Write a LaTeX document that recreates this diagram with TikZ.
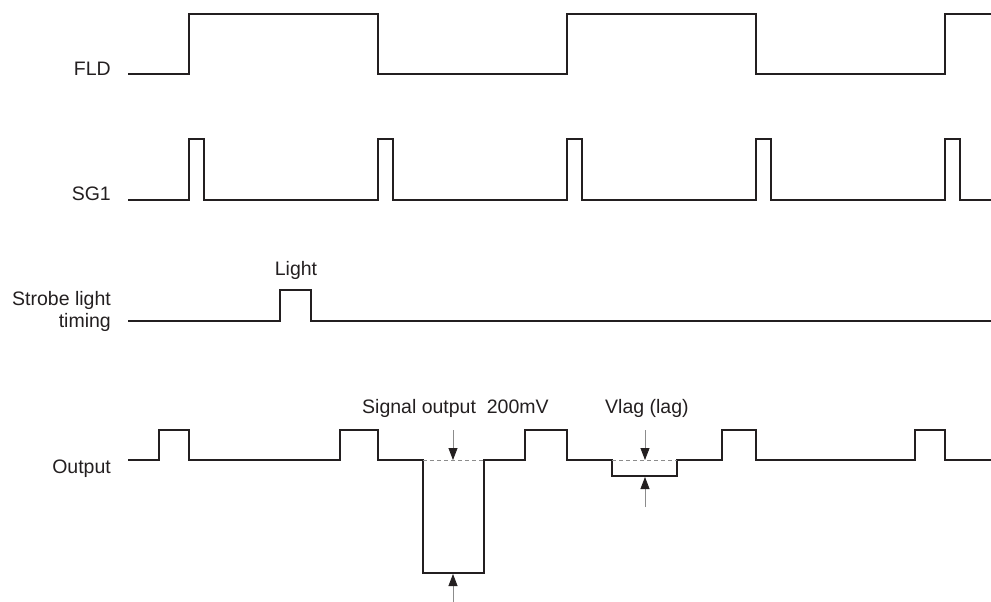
\documentclass[tikz,border=0pt]{standalone}
\usepackage{fontspec}
\setmainfont{Liberation Sans}
\usepackage{xcolor}
\definecolor{ink}{HTML}{231F20}
\definecolor{guide}{HTML}{8C8C8C}
\usetikzlibrary{arrows.meta}
\tikzset{
  wave/.style  = {draw=ink, line width=1.7pt, line join=miter},
  ref/.style   = {draw=guide, line width=0.8pt, dash pattern=on 4pt off 3pt},
  dim/.style   = {draw=guide, line width=0.8pt,
                  -{Triangle[length=12pt, width=9pt, color=ink]}},
  lbl/.style   = {font=\fontsize{19.5}{21.5}\selectfont, text=ink, inner sep=0pt}
}

\begin{document}
\begin{tikzpicture}[x=1pt, y=-1pt]
  \useasboundingbox (0,0) rectangle (991,602);
  % signal names
  \node[lbl, anchor=base east] (fld) at (111,76) {FLD};
  \node[lbl, anchor=base east] (sg)  at (111,200) {SG1};
  \node[lbl, anchor=base east, align=right] (strobe) at (111,327) {Strobe light\\timing};
  \node[lbl, anchor=base east] (out) at (111,473) {Output};
  % waveforms
  \draw[wave] (128,74) -- (189,74) -- (189,14) -- (378,14) -- (378,74)
    -- (567,74) -- (567,14) -- (756,14) -- (756,74) -- (945,74) -- (945,14) -- (991,14);
  \draw[wave] (128,200)
    \foreach \t in {189,378,567,756,945} { -- (\t,200) -- (\t,139) -- (\t+15,139) -- (\t+15,200) }
    -- (991,200);
  \draw[wave] (128,321) -- (280,321) -- (280,290) -- (311,290) -- (311,321) -- (991,321);
  \draw[wave] (128,460) -- (159,460) -- (159,430) -- (189,430) -- (189,460)
    -- (340,460) -- (340,430) -- (378,430) -- (378,460)
    -- (423,460) -- (423,573) -- (484,573) -- (484,460)
    -- (525,460) -- (525,430) -- (567,430) -- (567,460)
    -- (612,460) -- (612,476) -- (677,476) -- (677,460)
    -- (722,460) -- (722,430) -- (756,430) -- (756,460)
    -- (915,460) -- (915,430) -- (945,430) -- (945,460) -- (991,460);
  % reference levels
  \draw[ref] (423,460) -- (484,460);
  \draw[ref] (612,460) -- (677,460);
  % labels on the pulses
  \node[lbl, anchor=base] (light) at (296,275) {Light};
  \node[lbl, anchor=base west] (sigout) at (362,413) {Signal output\ \ 200mV};
  \node[lbl, anchor=base west] (vlag) at (605,413) {Vlag (lag)};
  % level arrows
  \coordinate (s1) at (453,430);
  \coordinate (s2) at (453,460);
  \coordinate (s3) at (453,602);
  \coordinate (s4) at (453,574);
  \coordinate (v1) at (645,430);
  \coordinate (v2) at (645,460);
  \coordinate (v3) at (645,507);
  \coordinate (v4) at (645,477);
  \draw[dim] (s1) -- (s2);
  \draw[dim] (s3) -- (s4);
  \draw[dim] (v1) -- (v2);
  \draw[dim] (v3) -- (v4);
\end{tikzpicture}
\end{document}
